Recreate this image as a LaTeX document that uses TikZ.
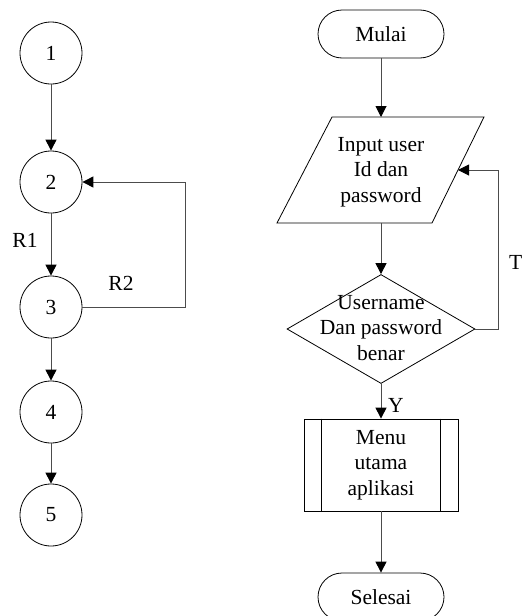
\documentclass[tikz,border=0pt]{standalone}
\usepackage{fontspec}
\setmainfont{Liberation Serif}
\usetikzlibrary{arrows.meta,shapes.geometric,calc}
\begin{document}
\begin{tikzpicture}[x=1pt,y=-1pt,
  every node/.style={font=\fontsize{21.5}{25.5}\selectfont, text=black},
  shapeline/.style={draw=black, line width=0.8pt},
  circ/.style={circle, shapeline, minimum size=62pt, inner sep=0pt},
  term/.style={rectangle, rounded corners=24pt, shapeline, minimum width=126pt, minimum height=48pt, inner sep=0pt},
  arr/.style={draw=black!70, line width=1pt, -{Triangle[length=11pt,width=11pt,color=black]}},
  txt/.style={align=center, inner sep=0pt}]
\useasboundingbox (0,0) rectangle (525,616);

% left flow graph
\node[circ] (c1) at (51,53) {1};
\node[circ] (c2) at (51,182) {2};
\node[circ] (c3) at (51,307) {3};
\node[circ] (c4) at (51,412) {4};
\node[circ] (c5) at (51,515) {5};
\draw[arr] (c1) -- (c2);
\draw[arr] (c2) -- (c3);
\draw[arr] (c3) -- (c4);
\draw[arr] (c4) -- (c5);
\draw[arr] (c3.east) -- ++(103,0) |- (c2.east);
\node[txt] (r1) at (25,240) {R1};
\node[txt] (r2) at (121,283) {R2};

% right flowchart
\node[term] (mulai) at (381,34) {Mulai};
% parallelogram (input)
\coordinate (pTL) at (332,117);
\coordinate (pTR) at (484,117);
\coordinate (pBR) at (432,223);
\coordinate (pBL) at (277,223);
\draw[shapeline] (pTL) -- (pTR) -- (pBR) -- (pBL) -- cycle;
\coordinate (parTop) at (381,117);
\coordinate (parBot) at (381,223);
\coordinate (parR) at ($(pTR)!0.5!(pBR)$);
\node[txt] (partext) at (381,172) {Input user\\Id dan\\password};
\node[diamond, shapeline, minimum width=188pt, minimum height=109pt, inner sep=0pt] (dec) at (381,329) {};
\node[txt] (dectext) at (381,328) {Username\\Dan password\\benar};
\node[rectangle, shapeline, minimum width=154pt, minimum height=92pt, inner sep=0pt] (menu) at (381,465) {};
\node[txt] (menutext) at (381,465) {Menu\\utama\\aplikasi};
\draw[shapeline] ($(menu.north west)+(18,0)$) -- ($(menu.south west)+(18,0)$);
\draw[shapeline] ($(menu.north east)+(-18,0)$) -- ($(menu.south east)+(-18,0)$);
\node[term] (selesai) at (381,597) {Selesai};

\draw[arr] (mulai.south) -- (parTop);
\draw[arr] (parBot) -- (dec.north);
\draw[arr] (dec.south) -- (menu.north);
\draw[arr] (menu.south) -- (selesai.north);
\draw[arr] (dec.east) -- ++(23,0) |- (parR);
\node[txt, anchor=west] (t) at (509,262) {T};
\node[txt] (y) at (396,405) {Y};
\end{tikzpicture}
\end{document}
